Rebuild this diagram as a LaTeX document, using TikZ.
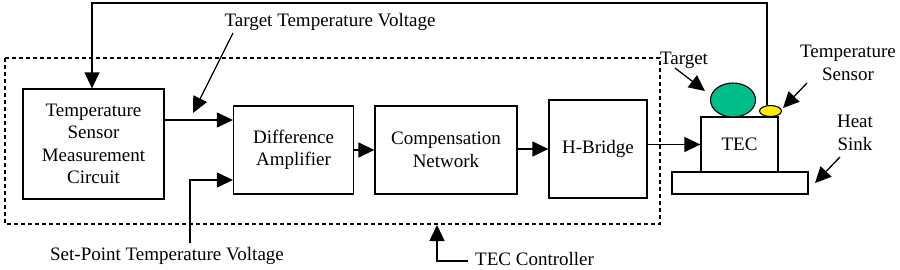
\documentclass[tikz,border=0pt]{standalone}
\usepackage{fontspec}
\setmainfont{Liberation Serif}
\usetikzlibrary{arrows.meta,shapes.geometric}
\definecolor{tgtgreen}{RGB}{0,190,140}
\definecolor{snsyellow}{RGB}{255,235,0}
\begin{document}
\begin{tikzpicture}[x=1pt,y=-1pt,
  blk/.style={draw,line width=1.3pt,align=center,inner sep=0pt,font=\fontsize{19}{22.5}\selectfont},
  lbl/.style={inner sep=0pt,align=center,font=\fontsize{19}{22.5}\selectfont},
  wire/.style={line width=1.3pt},
  arr/.style={wire,-{Triangle[length=16pt,width=15pt]}},
  ctrlbox/.style={draw,line width=1.1pt,dash pattern=on 4pt off 3pt},
  blob/.style={ellipse,draw,line width=1.1pt,inner sep=0pt},
]
\useasboundingbox (0,0) rectangle (900,269);
% dashed controller boundary
\draw[ctrlbox] (5,58) rectangle (660,224);
% blocks
\node[blk,minimum width=141,minimum height=110] (tsmc) at (93.5,144) {Temperature\\Sensor\\Measurement\\Circuit};
\node[blk,minimum width=120,minimum height=88] (diff) at (293.5,150) {Difference\\Amplifier};
\node[blk,minimum width=142,minimum height=88] (comp) at (446,150) {Compensation\\Network};
\node[blk,minimum width=98,minimum height=98] (hb) at (598,149) {H-Bridge};
\node[blk,minimum width=77,minimum height=55] (tec) at (739.5,144.5) {TEC};
\node[blk,minimum width=136,minimum height=22] (hs) at (740,183) {};
\node[blob,fill=tgtgreen,minimum width=45,minimum height=34] (tgt) at (733,100) {};
\node[blob,fill=snsyellow,minimum width=22,minimum height=11] (sns) at (770.5,111) {};
% labels
\node[lbl] (ttv) at (330,22) {Target Temperature Voltage};
\node[lbl] (spv) at (167,256) {Set-Point Temperature Voltage};
\node[lbl,anchor=west] (tecc) at (475,259) {TEC Controller};
\node[lbl] (tgtl) at (684,60) {Target};
\node[lbl] (snsl) at (848,63) {Temperature\\Sensor};
\node[lbl] (hsl) at (855,133) {Heat\\Sink};
% helper coordinates
\coordinate (fbA) at (767,3);
\coordinate (fbB) at (92,3);
\coordinate (y120) at (0,120);
\coordinate (y180) at (0,180);
\coordinate (spA) at (190,243);
\coordinate (ttA) at (233,33);
\coordinate (ttB) at (193,113);
\coordinate (tcA) at (468,261);
\coordinate (tcB) at (437,225);
\coordinate (tgA) at (675,68);
\coordinate (tgB) at (705,91);
\coordinate (snA) at (807,83);
\coordinate (snB) at (783,108);
\coordinate (hsA) at (840,157);
\coordinate (hsB) at (815,183);
% connectors
\draw[arr] (sns.north -| fbA) -- (fbA) -- (fbB) -- (fbB |- tsmc.north);
\draw[arr] (tsmc.east |- y120) -- (diff.west |- y120);
\draw[arr] (spA) |- (diff.west |- y180);
\draw[arr] (diff.east) -- (comp.west);
\draw[arr] (comp.east |- hb.west) -- (hb.west);
\draw[arr] (hb.east |- tec.west) -- (tec.west);
\draw[arr] (ttA) -- (ttB);
\draw[arr] (tcA) -| (tcB);
\draw[arr] (tgA) -- (tgB);
\draw[arr] (snA) -- (snB);
\draw[arr] (hsA) -- (hsB);
\end{tikzpicture}
\end{document}
